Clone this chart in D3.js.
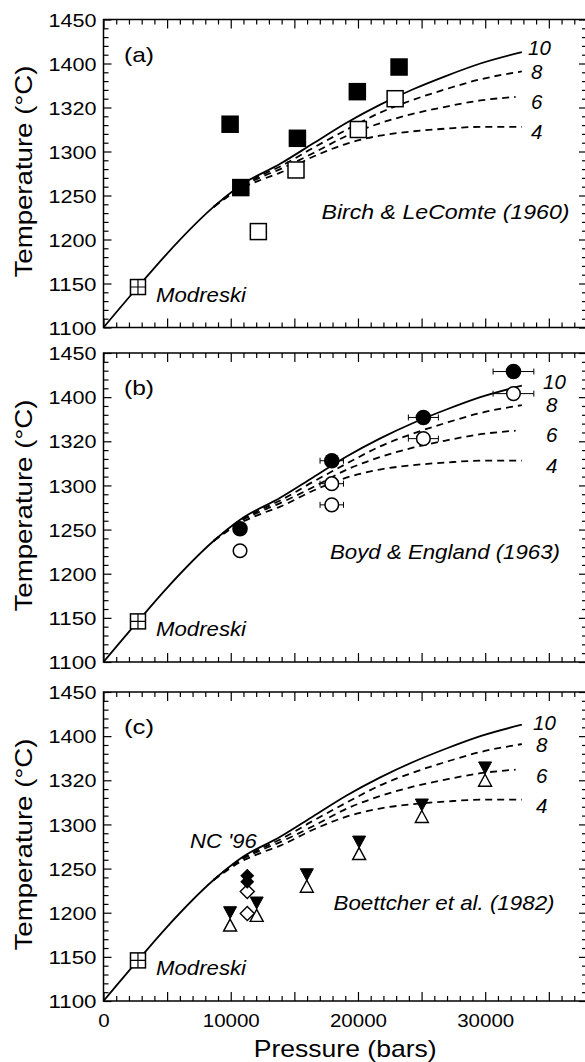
<!DOCTYPE html>
<html><head><meta charset="utf-8">
<script src="https://cdn.jsdelivr.net/npm/d3@7"></script>
<style>body{margin:0;background:#fff} svg{display:block}</style>
</head><body>
<svg id="chart" width="585" height="1062"></svg>
<script>
// ---------- axes / ticks ----------
const yTickValues = [1100, 1150, 1200, 1250, 1300, 1350, 1400, 1450];
const yTickLabels = ["1100", "1150", "1200", "1250", "1300", "1320", "1400", "1450"];
const xTickValues = [0, 10000, 20000, 30000];
const xTickLabels = ["0", "10000", "20000", "30000"];

// ---------- model curves ----------
const curve10P = [0, 2700, 5000, 8650, 10820, 13890, 16460, 19140, 21710, 24380, 26950, 29620, 32880];
const curve10T = [1100, 1146, 1184, 1237, 1262, 1286, 1309, 1333, 1353, 1371, 1386, 1400, 1413];
const curve8P = [8650, 10820, 12410, 13890, 16460, 19140, 21710, 24380, 26950, 29620, 32880];
const curve8T = [1237, 1261, 1273, 1283, 1304, 1325, 1344, 1359, 1371, 1382, 1391];
const curve6P = [8650, 10820, 12410, 13890, 16460, 19140, 21710, 24380, 26950, 29620, 32390];
const curve6T = [1237, 1260, 1271, 1280, 1298, 1318, 1332, 1343, 1351, 1358, 1362];
const curve4P = [8650, 10820, 12410, 13890, 16460, 19140, 21710, 24380, 26950, 29620, 32880];
const curve4T = [1237, 1258, 1268, 1276, 1294, 1309, 1318, 1323, 1326, 1328, 1328];
const curveLabels = ["10", "8", "6", "4"];

// ---------- Modreski ----------
const modreskiP = [2710];
const modreskiT = [1146];

// ---------- (a) Birch & LeComte (1960) ----------
const birchFilledP = [9950, 10790, 15240, 19950, 23230];
const birchFilledT = [1331, 1259, 1315, 1368, 1396];
const birchOpenP = [12170, 15130, 20030, 22920];
const birchOpenT = [1209, 1279, 1325, 1360];

// ---------- (b) Boyd & England (1963) ----------
const boydFilledP = [10730, 17940, 25140, 32220];
const boydFilledT = [1251, 1328, 1377, 1429];
const boydFilledErr = [0, 920, 1180, 1600];
const boydOpenP = [10730, 17940, 17940, 25140, 32220];
const boydOpenT = [1226, 1302, 1278, 1353, 1404];
const boydOpenErr = [0, 920, 920, 1180, 1600];

// ---------- (c) Boettcher et al. (1982) ----------
const boettDownP = [9950, 12040, 15980, 20090, 25020, 29990];
const boettDownT = [1200, 1211, 1243, 1280, 1322, 1364];
const boettUpP = [9950, 12040, 15980, 20090, 25020, 29990];
const boettUpT = [1186, 1197, 1230, 1267, 1309, 1350];
const diamondFilledP = [11300, 11300];
const diamondFilledT = [1242, 1235];
const diamondOpenP = [11300, 11300];
const diamondOpenT = [1224, 1199];

// ---------- layout ----------
const svg = d3.select('#chart');
const FONT = "'Liberation Sans', Arial, Helvetica, sans-serif";
const x = d3.scaleLinear().domain([0, 38000]).range([103.5, 587]);
const panels = [
  {key: 'a', top: 19.5, bottom: 327.5, labelX: 529, labelDy: [35.5, 59, 89, 119.5],
   note: "Birch & LeComte (1960)", noteX: 321.5, noteDy: 199, noteLen: 248},
  {key: 'b', top: 353, bottom: 662, labelX: 544, labelDy: [35.5, 59, 89, 119.5],
   note: "Boyd & England (1963)", noteX: 330, noteDy: 205.5, noteLen: 230},
  {key: 'c', top: 692, bottom: 1001, labelX: 534, labelDy: [38, 60, 91, 121],
   note: "Boettcher et al. (1982)", noteX: 333.5, noteDy: 218, noteLen: 221}
];

const zip = (P, T, E) => P.map((p, i) => ({p, t: T[i], e: E ? E[i] : 0}));
const curves = [
  {data: zip(curve10P, curve10T), dash: null},
  {data: zip(curve8P, curve8T), dash: "7,5"},
  {data: zip(curve6P, curve6T), dash: "7,5"},
  {data: zip(curve4P, curve4T), dash: "7,5"}
];

const minorY = d3.range(1100, 1451, 10).filter(v => v % 50 !== 0);
const majorX = d3.range(0, 38001, 5000);
const minorX = d3.range(0, 38001, 1000).filter(v => v % 5000 !== 0);

const triDown = {draw(c, size) { const s = 6.5, h = 6; c.moveTo(-s, -h); c.lineTo(s, -h); c.lineTo(0, h); c.closePath(); }};
const triUp = {draw(c, size) { const s = 6.5, h = 6; c.moveTo(0, -h); c.lineTo(s, h); c.lineTo(-s, h); c.closePath(); }};
const diamond = {draw(c, size) { const w = 7, h = 7; c.moveTo(0, -h); c.lineTo(w, 0); c.lineTo(0, h); c.lineTo(-w, 0); c.closePath(); }};

function txt(g, s, attrs, len) {
  const t = g.append('text').text(s).attr('font-family', FONT).attr('fill', '#000');
  Object.entries(attrs).forEach(([k, v]) => t.attr(k, v));
  if (len) t.attr('textLength', len).attr('lengthAdjust', 'spacingAndGlyphs');
  return t;
}

panels.forEach((pn, pi) => {
  const y = d3.scaleLinear().domain([1100, 1450]).range([pn.bottom, pn.top]);
  const g = svg.append('g');
  const line = d3.line().x(d => x(d.p)).y(d => y(d.t)).curve(d3.curveMonotoneX);

  // ticks
  const styleAxis = a => { a.select('.domain').remove(); a.selectAll('line').attr('stroke', '#000').attr('stroke-width', 1.2); };
  g.append('g').attr('transform', `translate(${x(0)},0)`)
    .call(d3.axisLeft(y).tickValues(minorY).tickSize(-5).tickFormat('')).call(styleAxis);
  const yl = g.append('g').attr('transform', `translate(${x(0)},0)`)
    .call(d3.axisLeft(y).tickValues(yTickValues).tickSize(-8).tickPadding(7)
      .tickFormat((d, i) => yTickLabels[i])).call(styleAxis);
  yl.selectAll('text').attr('font-family', FONT).attr('font-size', 19).attr('fill', '#000')
    .attr('dy', null).attr('y', 6.7).attr('textLength', 48).attr('lengthAdjust', 'spacingAndGlyphs');

  g.append('g').attr('transform', `translate(${x.range()[1]},0)`)
    .call(d3.axisRight(y).tickValues(minorY).tickSize(-5).tickFormat('')).call(styleAxis);
  g.append('g').attr('transform', `translate(${x.range()[1]},0)`)
    .call(d3.axisRight(y).tickValues(yTickValues).tickSize(-8).tickFormat('')).call(styleAxis);

  g.append('g').attr('transform', `translate(0,${pn.top})`)
    .call(d3.axisTop(x).tickValues(minorX).tickSize(-5).tickFormat('')).call(styleAxis);
  g.append('g').attr('transform', `translate(0,${pn.top})`)
    .call(d3.axisTop(x).tickValues(majorX).tickSize(-9).tickFormat('')).call(styleAxis);
  g.append('g').attr('transform', `translate(0,${pn.bottom})`)
    .call(d3.axisBottom(x).tickValues(minorX).tickSize(-5).tickFormat('')).call(styleAxis);
  const xb = g.append('g').attr('transform', `translate(0,${pn.bottom})`)
    .call(d3.axisBottom(x).tickValues(majorX).tickSize(-9).tickFormat(d => {
      const i = xTickValues.indexOf(d);
      return (pi === 2 && i >= 0) ? xTickLabels[i] : '';
    })).call(styleAxis);
  xb.selectAll('text').attr('font-family', FONT).attr('font-size', 19).attr('fill', '#000')
    .attr('dy', null).attr('y', 25.7)
    .each(function(d) { const s = d3.select(this).text(); if (s) d3.select(this).attr('textLength', 11.4 * s.length).attr('lengthAdjust', 'spacingAndGlyphs'); });

  // frame
  g.append('path').attr('fill', 'none').attr('stroke', '#000').attr('stroke-width', 1.5)
    .attr('d', `M${x.range()[1]},${pn.top}H${x(0)}V${pn.bottom}H${x.range()[1]}`);

  // curves
  g.selectAll('path.curve').data(curves).join('path').attr('class', 'curve')
    .attr('d', c => line(c.data)).attr('fill', 'none').attr('stroke', '#000')
    .attr('stroke-width', 1.8).attr('stroke-dasharray', c => c.dash);

  // curve labels
  curveLabels.forEach((lab, i) => {
    txt(g, lab, {x: pn.labelX + (i === 0 ? -1 : 2), y: pn.top + pn.labelDy[i], 'font-size': 20.5, 'font-style': 'italic'});
  });

  // panel letter
  txt(g, `(${pn.key})`, {x: 124, y: pn.top + 42, 'font-size': 21}, 30);
  // source note
  txt(g, pn.note, {x: pn.noteX, y: pn.top + pn.noteDy, 'font-size': 21, 'font-style': 'italic'}, pn.noteLen);

  // Modreski
  const mod = zip(modreskiP, modreskiT);
  const mg = g.selectAll('g.mod').data(mod).join('g').attr('class', 'mod')
    .attr('transform', d => `translate(${x(d.p)},${y(d.t)})`);
  mg.append('rect').attr('x', -7.5).attr('y', -7.5).attr('width', 15).attr('height', 15)
    .attr('fill', '#fff').attr('stroke', '#000').attr('stroke-width', 1.5);
  mg.append('path').attr('d', 'M-7.5,0H7.5M0,-7.5V7.5').attr('stroke', '#000').attr('stroke-width', 1.2);
  txt(g, "Modreski", {x: 156, y: pn.top + 282.5, 'font-size': 21, 'font-style': 'italic'}, 90);

  if (pi === 0) {
    g.selectAll('rect.bf').data(zip(birchFilledP, birchFilledT)).join('rect').attr('class', 'bf')
      .attr('x', d => x(d.p) - 8.75).attr('y', d => y(d.t) - 8.75).attr('width', 17.5).attr('height', 17.5).attr('fill', '#000');
    g.selectAll('rect.bo').data(zip(birchOpenP, birchOpenT)).join('rect').attr('class', 'bo')
      .attr('x', d => x(d.p) - 8).attr('y', d => y(d.t) - 8).attr('width', 16).attr('height', 16)
      .attr('fill', '#fff').attr('stroke', '#000').attr('stroke-width', 1.5);
  }
  if (pi === 1) {
    const all = zip(boydFilledP, boydFilledT, boydFilledErr).concat(zip(boydOpenP, boydOpenT, boydOpenErr)).filter(d => d.e > 0);
    const eb = g.selectAll('g.eb').data(all).join('g').attr('class', 'eb');
    eb.append('path').attr('fill', 'none').attr('stroke', '#000').attr('stroke-width', 1)
      .attr('d', d => {
        const x0 = x(d.p - d.e), x1 = x(d.p + d.e), yy = y(d.t);
        return `M${x0},${yy}H${x1}M${x0},${yy - 3}V${yy + 3}M${x1},${yy - 3}V${yy + 3}`;
      });
    g.selectAll('circle.of').data(zip(boydOpenP, boydOpenT)).join('circle').attr('class', 'of')
      .attr('cx', d => x(d.p)).attr('cy', d => y(d.t)).attr('r', 6.8)
      .attr('fill', '#fff').attr('stroke', '#000').attr('stroke-width', 1.5);
    g.selectAll('circle.ff').data(zip(boydFilledP, boydFilledT)).join('circle').attr('class', 'ff')
      .attr('cx', d => x(d.p)).attr('cy', d => y(d.t)).attr('r', 7.8).attr('fill', '#000');
  }
  if (pi === 2) {
    const sym = t => d3.symbol().type(t)();
    g.selectAll('path.tu').data(zip(boettUpP, boettUpT)).join('path').attr('class', 'tu')
      .attr('d', sym(triUp)).attr('transform', d => `translate(${x(d.p)},${y(d.t)})`)
      .attr('fill', '#fff').attr('stroke', '#000').attr('stroke-width', 1.4);
    g.selectAll('path.td').data(zip(boettDownP, boettDownT)).join('path').attr('class', 'td')
      .attr('d', sym(triDown)).attr('transform', d => `translate(${x(d.p)},${y(d.t)})`)
      .attr('fill', '#000').attr('stroke', '#000').attr('stroke-width', 1);
    g.selectAll('path.do').data(zip(diamondOpenP, diamondOpenT)).join('path').attr('class', 'do')
      .attr('d', sym(diamond)).attr('transform', d => `translate(${x(d.p)},${y(d.t)})`)
      .attr('fill', '#fff').attr('stroke', '#000').attr('stroke-width', 1.4);
    g.selectAll('path.df').data(zip(diamondFilledP, diamondFilledT)).join('path').attr('class', 'df')
      .attr('d', sym(diamond)).attr('transform', d => `translate(${x(d.p)},${y(d.t)})`)
      .attr('fill', '#000');
    txt(g, "NC '96", {x: 190, y: 848.3, 'font-size': 21, 'font-style': 'italic'}, 66.7);
  }

  // y title
  const cy = (pn.top + pn.bottom) / 2 - 2;
  txt(g, "Temperature (°C)", {transform: `translate(31.5,${cy}) rotate(-90)`, 'text-anchor': 'middle', 'font-size': 24}, 212);
});

txt(svg, "Pressure (bars)", {x: 345.2, y: 1057.3, 'text-anchor': 'middle', 'font-size': 24}, 183);
</script>
</body></html>
